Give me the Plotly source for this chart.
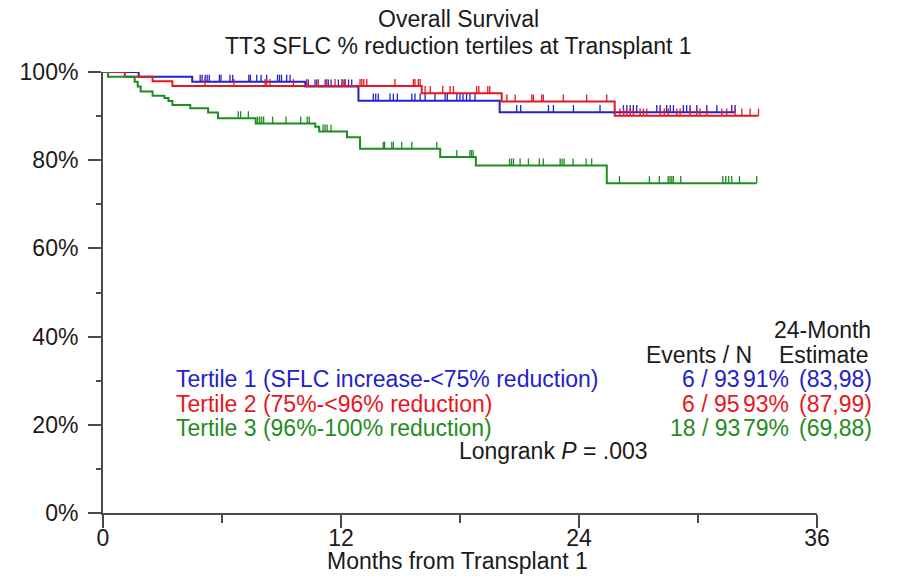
import bisect
import plotly.graph_objects as go

# ---------------- data ----------------
# Tertile 1 (blue)
t1_times = [0, 1.8, 4.5, 10.2, 12.88, 20.0]
t1_surv = [100, 98.9, 97.8, 96.7, 93.5, 90.9]
t1_censor = [4.9, 5.0, 5.15, 5.25, 5.36, 5.87, 5.95, 6.4, 6.54, 7.35, 7.43, 7.75, 7.97,
             8.25, 8.8, 8.9, 9.0, 9.26, 9.43, 10.35, 10.69, 10.78, 11.2, 11.36, 11.5,
             11.87, 12.1, 12.2, 12.38, 12.54, 13.63, 13.75, 13.88, 14.47, 14.64, 14.84,
             15.57, 15.73, 15.99, 16.24, 16.74, 17.25, 17.36, 17.84, 18.0, 18.15, 18.33,
             18.5, 18.76, 20.86, 21.06, 22.46, 22.71, 23.72, 25.06, 26.24, 26.41, 26.58,
             26.74, 26.91, 27.92, 28.09, 28.42, 28.6, 28.76, 29.26, 29.43, 29.6, 29.94,
             30.44, 30.95, 31.7, 31.87]

# Tertile 2 (red)
t2_times = [0, 1.1, 2.5, 3.5, 16.07, 20.1, 25.8]
t2_surv = [100, 98.9, 97.9, 96.8, 95.2, 93.3, 90.1]
t2_censor = [5.14, 6.6, 8.17, 8.25, 8.42, 9.6, 10.27, 10.86, 11.28, 11.7, 12.04, 12.2,
             12.96, 13.05, 13.15, 13.3, 14.72, 15.65, 15.73, 15.9, 15.99, 16.24, 16.5,
             17.13, 17.5, 17.67, 18.84, 18.95, 19.4, 19.5, 20.36, 20.78, 21.62, 21.7,
             22.12, 22.2, 23.21, 24.39, 25.4, 26.07, 26.25, 26.41, 26.58, 26.74, 27.08,
             27.25, 27.42, 28.09, 28.3, 28.5, 28.93, 29.1, 29.6, 29.94, 30.1, 30.44,
             31.2, 31.45, 31.87, 32.21, 32.63, 33.05]

# Tertile 3 (green)
t3_times = [0, 0.25, 1.6, 1.75, 1.9, 2.5, 3.1, 3.3, 3.5, 4.4, 5.3, 5.8, 7.7, 10.7, 10.9,
            12.3, 12.96, 17.0, 18.8, 25.4]
t3_surv = [100, 98.9, 97.8, 96.7, 95.6, 94.6, 94.1, 93.4, 92.5, 91.8, 90.8, 89.5, 88.3,
           87.6, 86.5, 85.2, 82.6, 80.7, 78.8, 74.8]
t3_censor = [6.82, 6.94, 7.33, 7.8, 7.9, 8.0, 8.1, 8.55, 9.23, 9.97, 10.3, 10.4, 11.1,
             11.2, 11.3, 11.5, 14.13, 14.2, 14.56, 14.64, 15.06, 15.57, 16.83, 17.84,
             18.5, 18.58, 18.66, 20.5, 20.6, 20.7, 21.03, 21.45, 22.0, 22.2, 23.05, 23.15,
             23.25, 23.7, 24.36, 24.64, 26.04, 27.55, 28.05, 28.5, 28.59, 28.68, 28.76,
             29.13, 31.25, 31.4, 31.55, 31.7, 32.09, 32.96]

series_names = ["Tertile 1 (SFLC increase-<75% reduction)",
                "Tertile 2 (75%-<96% reduction)",
                "Tertile 3 (96%-100% reduction)"]
events_n = ["6 / 93", "6 / 95", "18 / 93"]
est_24 = ["91%", "93%", "79%"]
ci_24 = ["(83,98)", "(87,99)", "(69,88)"]
pvalue_text = ".003"

x_ticks = [0, 12, 24, 36]
x_minor = [6, 18, 30]
y_ticks = [0, 20, 40, 60, 80, 100]
y_ticklabels = ["0%", "20%", "40%", "60%", "80%", "100%"]
y_minor = [10, 30, 50, 70, 90]

# ---------------- styling ----------------
BLUE = "#2222CC"
RED = "#E8161E"
GREEN = "#1F8C1F"
colors = [BLUE, RED, GREEN]
AXIS = "#4a4a4a"
TXT = "#1a1a1a"
FONT = "Liberation Sans, Arial, sans-serif"
FS = 23
TICK_H = 1.6  # censor tick height in % units

X_MAX = 36.0
Y_MAX = 100.0

fig = go.Figure()

def level_at(times, surv, t):
    i = bisect.bisect_right(times, t) - 1
    return surv[max(i, 0)]

data = [(t1_times, t1_surv, t1_censor),
        (t2_times, t2_surv, t2_censor),
        (t3_times, t3_surv, t3_censor)]

for (times, surv, cens), col in zip(data, colors):
    end = max(cens)
    xs = list(times) + [end]
    ys = list(surv) + [surv[-1]]
    fig.add_trace(go.Scatter(x=xs, y=ys, mode="lines", line=dict(color=col, width=2, shape="hv"),
                             cliponaxis=False, showlegend=False, hoverinfo="skip"))
    cx, cy = [], []
    for c in cens:
        lv = level_at(times, surv, c)
        cx += [c, c, None]
        cy += [lv, lv + TICK_H, None]
    fig.add_trace(go.Scatter(x=cx, y=cy, mode="lines", line=dict(color=col, width=1.3),
                             cliponaxis=False, showlegend=False, hoverinfo="skip"))

anns = []
def ann(text, x, y, xanchor="left", color=TXT):
    # positions given in axis units (months, %), placed in paper coordinates
    anns.append(dict(text=text, x=x / X_MAX, y=y / Y_MAX, xref="paper", yref="paper",
                     xanchor=xanchor, yanchor="middle", showarrow=False,
                     font=dict(family=FONT, size=FS, color=color)))

PX_PER_PCT = 442 / 100.0
# title lines (pixel offsets above the plot top converted into % units)
ann("Overall Survival", 17.9, 100 + (71.5 - 18) / PX_PER_PCT, "center")
ann("TT3 SFLC % reduction tertiles at Transplant 1", 17.9, 100 + (71.5 - 45) / PX_PER_PCT, "center")
# x axis title
ann("Months from Transplant 1", 17.85, -(562 - 513.5) / PX_PER_PCT, "center")

# legend block
ann("24-Month", 36.3, 41.5, "center")
ann("Events / N", 30.05, 35.9, "center")
ann("Estimate", 36.35, 35.9, "center")
rows_y = [30.4, 24.8, 19.3]
for i in range(3):
    ann(series_names[i], 3.58, rows_y[i], "left", colors[i])
    ann(events_n[i], 32.2, rows_y[i], "right", colors[i])
    ann(est_24[i], 34.7, rows_y[i], "right", colors[i])
    ann(ci_24[i], 34.99, rows_y[i], "left", colors[i])
ann("Longrank <i>P</i> = " + pvalue_text, 17.85, 14.1, "left")

# the page body adds an 8px offset; margins compensate so the plot lands where intended
OFF = 8
fig.update_layout(
    width=907, height=576,
    margin=dict(l=103 - OFF, r=907 - (103 - OFF) - 714, t=71.5 - OFF, b=576 - (71.5 - OFF) - 442,
                autoexpand=False),
    paper_bgcolor="white", plot_bgcolor="white",
    font=dict(family=FONT, size=FS, color=TXT),
    annotations=anns,
    showlegend=False,
)
fig.update_xaxes(range=[0, X_MAX], tickvals=x_ticks, ticktext=[str(v) for v in x_ticks],
                 automargin=False, ticklabelstandoff=-10,
                 showgrid=False, zeroline=False, showline=True, linecolor=AXIS, linewidth=2,
                 ticks="outside", ticklen=13, tickwidth=2, tickcolor=AXIS,
                 minor=dict(tickvals=x_minor, ticks="outside", ticklen=8, tickwidth=2, tickcolor=AXIS),
                 tickfont=dict(family=FONT, size=FS, color=TXT))
fig.update_yaxes(range=[0, Y_MAX], tickvals=y_ticks, ticktext=y_ticklabels,
                 automargin=False, ticklabelstandoff=5,
                 showgrid=False, zeroline=False, showline=True, linecolor=AXIS, linewidth=2,
                 ticks="outside", ticklen=13, tickwidth=2, tickcolor=AXIS,
                 minor=dict(tickvals=y_minor, ticks="outside", ticklen=5, tickwidth=2, tickcolor=AXIS),
                 tickfont=dict(family=FONT, size=FS, color=TXT))

fig.write_html("out.html")
